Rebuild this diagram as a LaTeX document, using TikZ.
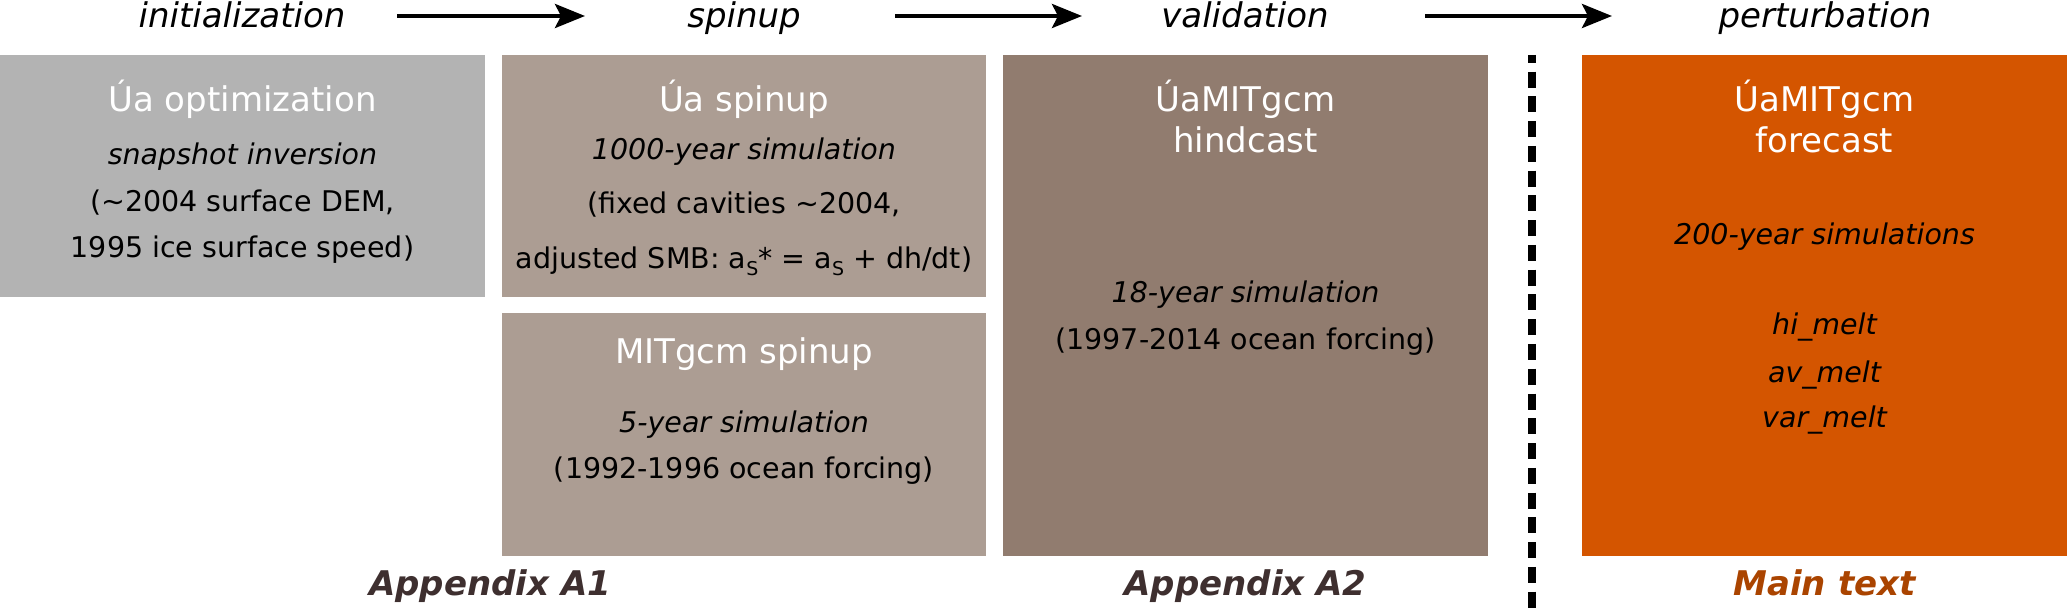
\documentclass[tikz,border=0pt]{standalone}
\usepackage{fontspec}
\setmainfont{DejaVu Sans}
\usetikzlibrary{arrows.meta}
\definecolor{cgray}{HTML}{B3B3B3}
\definecolor{cspin}{HTML}{AC9D93}
\definecolor{chind}{HTML}{917C6F}
\definecolor{cfore}{HTML}{D45500}
\definecolor{capp}{HTML}{3E2F2F}
\definecolor{cmain}{HTML}{AA4400}
\newcommand{\lowS}{\raisebox{-3.5pt}{\fontsize{9.5}{9.5}\selectfont S}}
\begin{document}
\begin{tikzpicture}[x=0.5pt,y=-0.5pt,
  box/.style={rectangle, inner sep=0pt, outer sep=0pt, anchor=north west, draw=none},
  hd/.style={text=white, font=\fontsize{17}{20}\selectfont, anchor=base, inner sep=0pt},
  bd/.style={text=black, font=\fontsize{14.25}{17}\selectfont, anchor=base, inner sep=0pt},
  bdi/.style={text=black, font=\fontsize{14.25}{17}\selectfont\itshape, anchor=base, inner sep=0pt},
  phase/.style={text=black, font=\fontsize{17}{20}\selectfont\itshape, anchor=base, inner sep=0pt},
  applabel/.style={font=\fontsize{17}{20}\selectfont\bfseries\itshape, anchor=base, inner sep=0pt},
  flow/.style={line width=2pt, -{Stealth[length=15pt, width=12pt, inset=3pt]}},
  sep/.style={line width=4pt, dash pattern=on 8pt off 4.375pt, dash phase=4pt}
]
\useasboundingbox (0,0) rectangle (2067,609);

% boxes
\node[box, fill=cgray, minimum width=242.5pt, minimum height=121pt] (b1) at (0,55) {};
\node[box, fill=cspin, minimum width=242pt, minimum height=121pt] (b2) at (502,55) {};
\node[box, fill=cspin, minimum width=242pt, minimum height=121.5pt] (b3) at (502,313) {};
\node[box, fill=chind, minimum width=242.5pt, minimum height=250.5pt] (b4) at (1003,55) {};
\node[box, fill=cfore, minimum width=242.5pt, minimum height=250.5pt] (b5) at (1582,55) {};

% phase titles
\node[phase] (p1) at (242,28) {initialization};
\node[phase] (p2) at (744,28) {spinup};
\node[phase] (p3) at (1245,28) {validation};
\node[phase] (p4) at (1825,28) {perturbation};

% arrows
\coordinate (a1s) at (397,16); \coordinate (a1e) at (585,16);
\coordinate (a2s) at (895,16); \coordinate (a2e) at (1082,16);
\coordinate (a3s) at (1425,16); \coordinate (a3e) at (1612,16);
\draw[flow] (a1s) -- (a1e);
\draw[flow] (a2s) -- (a2e);
\draw[flow] (a3s) -- (a3e);

% box 1
\node[hd] (b1t) at (242.5,112) {Úa optimization};
\node[bdi] (b1a) at (242.5,165) {snapshot inversion};
\node[bd] (b1b) at (242.5,212) {(\textasciitilde 2004 surface DEM,};
\node[bd] (b1c) at (242.5,258) {1995 ice surface speed)};

% box 2
\node[hd] (b2t) at (744,112) {Úa spinup};
\node[bdi] (b2a) at (744,160) {1000-year simulation};
\node[bd] (b2b) at (744,214) {(fixed cavities \textasciitilde 2004,};
\node[bd] (b2c) at (744,269) {adjusted SMB: a\lowS* = a\lowS{} + dh/dt)};

% box 3
\node[hd] (b3t) at (744,364) {MITgcm spinup};
\node[bdi] (b3a) at (744,432) {5-year simulation};
\node[bd] (b3b) at (744,478) {(1992-1996 ocean forcing)};

% box 4
\node[hd] (b4t) at (1245.5,112) {ÚaMITgcm};
\node[hd] (b4u) at (1245.5,153) {hindcast};
\node[bdi] (b4a) at (1245.5,303) {18-year simulation};
\node[bd] (b4b) at (1245.5,350) {(1997-2014 ocean forcing)};

% box 5
\node[hd] (b5t) at (1824.5,112) {ÚaMITgcm};
\node[hd] (b5u) at (1824.5,153) {forecast};
\node[bdi] (b5a) at (1824.5,245) {200-year simulations};
\node[bdi] (b5b) at (1824.5,335) {hi\_melt};
\node[bdi] (b5c) at (1824.5,382) {av\_melt};
\node[bdi] (b5d) at (1824.5,427) {var\_melt};

% separator
\coordinate (s1) at (1532,55); \coordinate (s2) at (1532,609);
\draw[sep] (s1) -- (s2);

% bottom labels
\node[applabel, text=capp] (l1) at (490,595) {Appendix A1};
\node[applabel, text=capp] (l2) at (1245.5,595) {Appendix A2};
\node[applabel, text=cmain] (l3) at (1824.5,595) {Main text};
\end{tikzpicture}
\end{document}
